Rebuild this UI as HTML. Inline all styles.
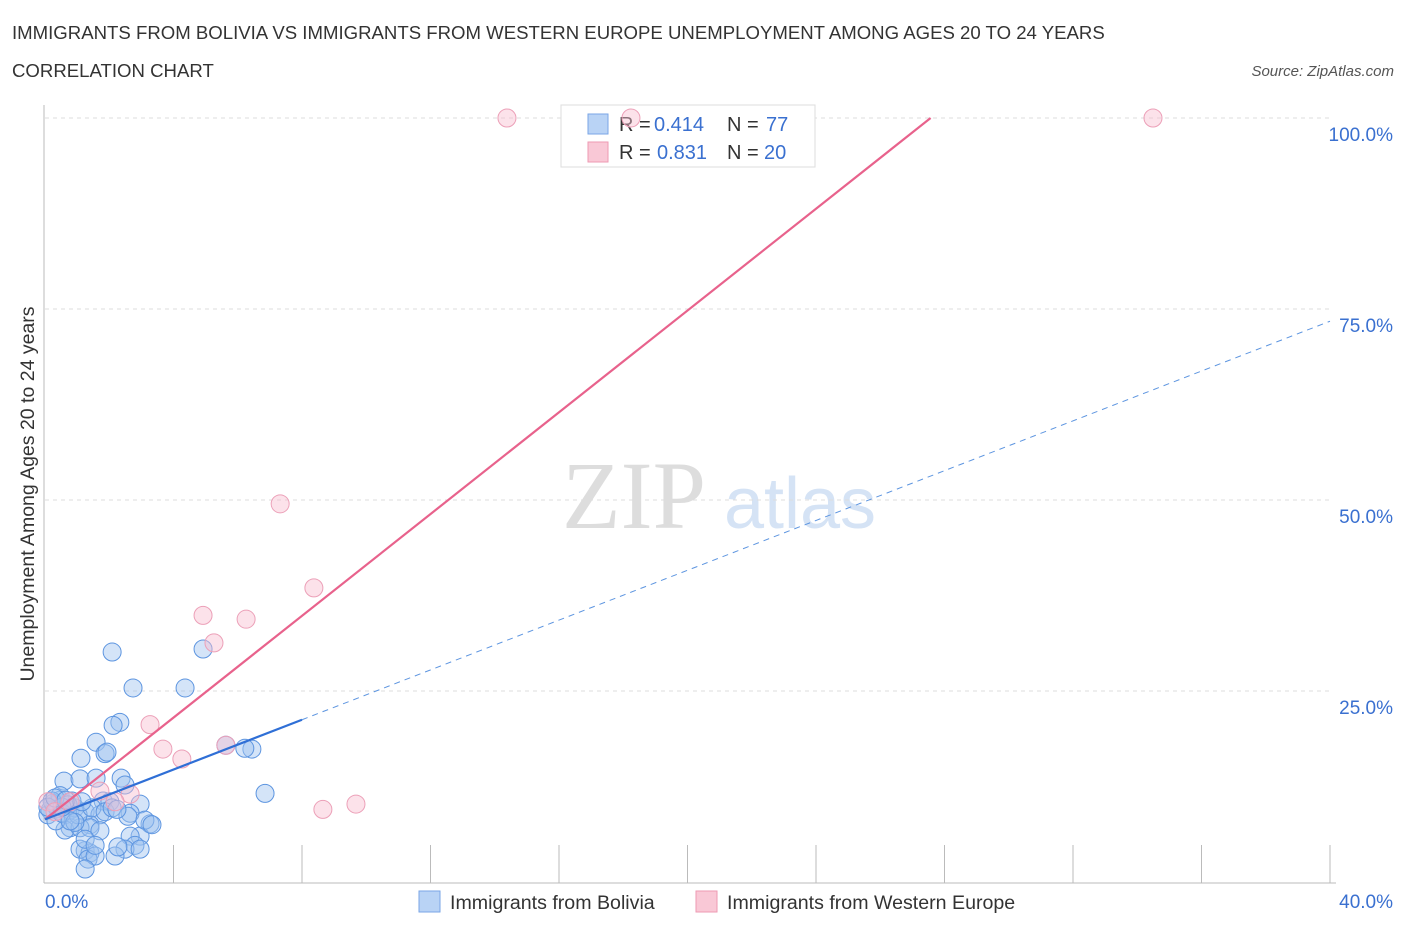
<!DOCTYPE html>
<html><head><meta charset="utf-8"><style>
body{margin:0;background:#fff;font-family:"Liberation Sans",sans-serif}
</style></head><body>
<svg id="c" width="1406" height="930" font-family="Liberation Sans, sans-serif">
<text x="12" y="39" font-size="18.6" fill="#333">IMMIGRANTS FROM BOLIVIA VS IMMIGRANTS FROM WESTERN EUROPE UNEMPLOYMENT AMONG AGES 20 TO 24 YEARS</text>
<text x="12" y="77" font-size="18.6" fill="#333">CORRELATION CHART</text>
<text x="1394" y="76" font-size="15" fill="#555" font-style="italic" text-anchor="end">Source: ZipAtlas.com</text>
<text x="634" y="528" font-size="96" fill="#ddd" style="font-family:'Liberation Serif',serif" text-anchor="middle">ZIP</text>
<text x="800" y="528" font-size="72" fill="#d5e3f5" text-anchor="middle">atlas</text>
<text transform="translate(34,494) rotate(-90)" font-size="19.5" fill="#333" text-anchor="middle">Unemployment Among Ages 20 to 24 years</text>
<g id="grid"></g>
<g>
<rect x="561" y="105" width="254" height="62" fill="#fff" stroke="#ddd"/>
<rect x="588" y="114" width="20" height="20" fill="#b9d3f5" stroke="#7aa6e6"/>
<rect x="588" y="142" width="20" height="20" fill="#f9c8d6" stroke="#ee9ab3"/>
<text x="619" y="131" font-size="20" fill="#333">R =</text><text x="654" y="131" font-size="20" fill="#3a70d0">0.414</text>
<text x="727" y="131" font-size="20" fill="#333">N =</text><text x="766" y="131" font-size="20" fill="#3a70d0">77</text>
<text x="619" y="159" font-size="20" fill="#333">R =</text><text x="657" y="159" font-size="20" fill="#3a70d0">0.831</text>
<text x="727" y="159" font-size="20" fill="#333">N =</text><text x="764" y="159" font-size="20" fill="#3a70d0">20</text>
</g>
<g id="pts"></g><g id="lines"></g>
<g>
<rect x="419" y="891" width="21" height="21" fill="#b9d3f5" stroke="#7aa6e6"/>
<text x="450" y="909" font-size="19.6" fill="#333">Immigrants from Bolivia</text>
<rect x="696" y="891" width="21" height="21" fill="#f9c8d6" stroke="#ee9ab3"/>
<text x="727" y="909" font-size="19.6" fill="#333">Immigrants from Western Europe</text>
</g>
</svg>
<script>
const xTicksLabels=["0.0%","40.0%"];
const yTicks=[25,50,75,100];
const blueX=[2.09,2.74,4.36,4.92,2.33,2.12,1.59,1.12,1.87,1.93,5.63,6.44,6.22,6.85,0.59,1.09,1.59,2.37,2.49,1.81,2.96,2.65,2.02,0.47,0.31,0.16,0.09,0.25,0.62,0.78,0.93,1.25,1.71,1.4,0.78,0.62,1.09,1.4,3.27,2.96,2.65,2.8,2.49,2.18,1.25,1.4,1.09,1.34,1.56,1.25,0.47,0.40,0.84,0.72,0.22,0.34,0.53,1.03,1.46,1.87,2.09,2.58,3.11,3.33,0.93,1.71,1.25,1.56,2.96,2.27,0.78,0.53,0.09,0.31,0.65,1.15,2.24];
const blueY=[30.1,25.4,25.4,30.5,20.9,20.5,18.3,16.2,16.8,17.0,17.9,17.4,17.5,11.6,13.2,13.5,13.6,13.6,12.7,10.6,10.2,9.0,10.5,10.7,10.1,9.4,8.8,10.3,8.8,9.4,9.7,9.2,8.8,7.5,7.1,6.8,7.1,7.1,7.6,6.0,6.0,4.8,4.3,3.4,4.1,3.8,4.3,3.0,3.4,1.7,11.3,9.6,10.6,10.1,10.6,8.0,9.0,8.8,9.7,9.2,9.7,8.6,8.1,7.5,7.8,6.7,5.6,4.8,4.3,4.6,8.0,9.8,9.8,11.0,10.7,10.5,9.5];
const pinkX=[14.38,18.24,34.49,7.32,8.37,4.92,6.26,5.26,3.27,3.67,4.26,5.63,8.65,9.68,1.71,2.65,0.09,0.31,0.78,2.18];
const pinkY=[100,100,100,49.5,38.5,34.9,34.4,31.3,20.6,17.4,16.1,17.9,9.5,10.2,11.9,11.5,10.5,9.2,10.5,10.5];
const blueFit=[8.2,1.63,8.0], pinkFit=[8.2,3.33];
const X=v=>45+v/40*1285, Y=v=>882-v*7.64;
const NS="http://www.w3.org/2000/svg";
function mk(t,a,p){const e=document.createElementNS(NS,t);for(const k in a)e.setAttribute(k,a[k]);document.getElementById(p).appendChild(e);return e;}
yTicks.forEach(t=>{
 const l=mk('line',{x1:45,x2:1330,y1:Y(t),y2:Y(t),stroke:'#ddd','stroke-dasharray':'4,4'},'grid');
 
 
 const tx=mk('text',{x:1393,y:Y(t)+23,'font-size':19,fill:'#3a70d0','text-anchor':'end'},'grid');
 tx.textContent=t.toFixed(1)+'%';
 
 
});
mk('line',{x1:44,x2:44,y1:105,y2:883,stroke:'#bbb'},'grid');
mk('line',{x1:44,x2:1336,y1:883,y2:883,stroke:'#bbb'},'grid');
for(let i=1;i<=10;i++){const t=mk('line',{x1:X(i*4),x2:X(i*4),y1:845,y2:883,stroke:'#bbb'},'grid');
 
 }
[[0,'start',45],[40,'end',1393]].forEach((d,i)=>{const t=mk('text',{x:d[2],y:908,'font-size':19,fill:'#3a70d0','text-anchor':d[1]},'grid');t.textContent=xTicksLabels[i];
 
 });
blueX.forEach((x,i)=>{const c=mk('circle',{cx:X(x),cy:Y(blueY[i]),r:9,fill:'rgba(160,196,240,0.45)',stroke:'#5d95e0','stroke-width':1},'pts');
 
 });
pinkX.forEach((x,i)=>{const c=mk('circle',{cx:X(x),cy:Y(pinkY[i]),r:9,fill:'rgba(248,190,208,0.45)',stroke:'#eca0b8','stroke-width':1},'pts');
 
 });
const pe=(100-pinkFit[0])/pinkFit[1];
const pl=mk('line',{x1:X(0),y1:Y(pinkFit[0]),x2:X(pe),y2:Y(100),stroke:'#e8628c','stroke-width':2.2},'lines');


const bl=mk('line',{x1:X(0),y1:Y(blueFit[0]),x2:X(blueFit[2]),y2:Y(blueFit[0]+blueFit[1]*blueFit[2]),stroke:'#2f6fd6','stroke-width':2.2},'lines');


const bd=mk('line',{x1:X(blueFit[2]),y1:Y(blueFit[0]+blueFit[1]*blueFit[2]),x2:X(40),y2:Y(blueFit[0]+blueFit[1]*40),stroke:'#5d95e0','stroke-width':1,'stroke-dasharray':'6,5'},'lines');


</script>
</body></html>
